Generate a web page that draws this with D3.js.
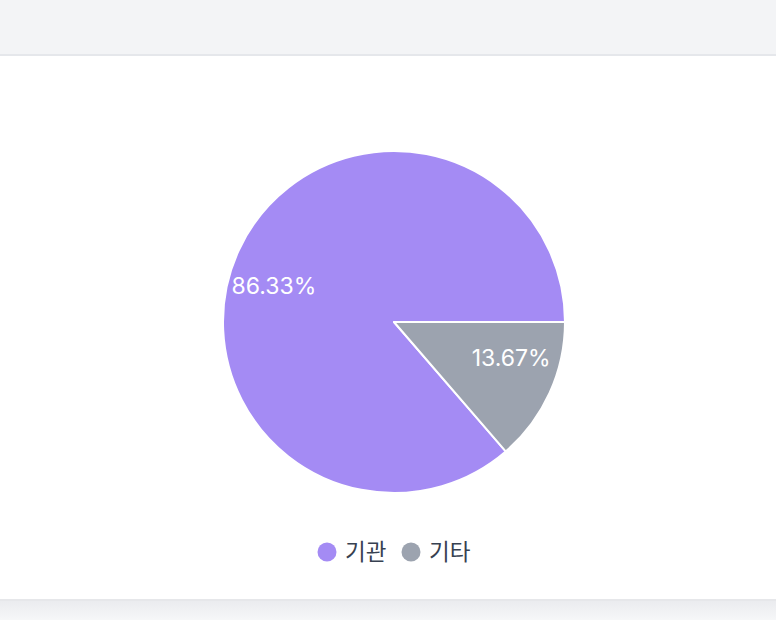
<!DOCTYPE html>
<html>
<head>
<meta charset="utf-8">
<script src="https://cdn.jsdelivr.net/npm/d3@7"></script>
<style>
  html, body { margin:0; padding:0; background:#f3f4f6; }
  #chart { display:block; }
</style>
</head>
<body>
<svg id="chart" width="776" height="620"></svg>
<script>
// data
let categories = ["기관", "기타"];
let shares = [86.33, 13.67];
let colors = ["#a48bf4", "#9ca3af"];

let width = 776, height = 620;
let cx = 394, cy = 322, radius = 171;

let svg = d3.select("#chart");

// page background: gray top band, white card, shadow below
svg.append("rect").attr("x", 0).attr("y", 0).attr("width", width).attr("height", height).attr("fill", "#f3f4f6");
let grad = svg.append("defs").append("linearGradient").attr("id", "shadow").attr("x1", 0).attr("y1", 0).attr("x2", 0).attr("y2", 1);
grad.append("stop").attr("offset", "0%").attr("stop-color", "#eaebee");
grad.append("stop").attr("offset", "100%").attr("stop-color", "#f6f7f8");
svg.append("rect").attr("x", 0).attr("y", 600).attr("width", width).attr("height", 20).attr("fill", "url(#shadow)");
svg.append("rect").attr("x", 0).attr("y", 54).attr("width", width).attr("height", 2).attr("fill", "#e5e7eb");
svg.append("rect").attr("x", 0).attr("y", 56).attr("width", width).attr("height", 544).attr("fill", "#ffffff");
svg.append("rect").attr("x", 0).attr("y", 599).attr("width", width).attr("height", 2).attr("fill", "#e6e7ea");

let data = categories.map((c, i) => ({name: c, value: shares[i], color: colors[i]}));

// counter-clockwise from 3 o'clock
let pie = d3.pie()
	.sort(null)
	.value(d => d.value)
	.startAngle(Math.PI / 2)
	.endAngle(Math.PI / 2 - 2 * Math.PI);

let arc = d3.arc().innerRadius(0).outerRadius(radius);
let labelArc = d3.arc().innerRadius(radius / 2).outerRadius(radius / 2);

let g = svg.append("g").attr("transform", "translate(" + cx + "," + cy + ")");

let arcs = pie(data);

g.selectAll("path")
	.data(arcs)
	.enter()
	.append("path")
	.attr("d", arc)
	.attr("fill", d => d.data.color)
	.attr("stroke", "#ffffff")
	.attr("stroke-width", 2)
	.attr("stroke-linejoin", "round");

g.selectAll("text.label")
	.data(arcs)
	.enter()
	.append("text")
	.attr("class", "label")
	.attr("x", d => labelArc.centroid(d)[0])
	.attr("y", d => labelArc.centroid(d)[1])
	.attr("dy", "0.35em")
	.attr("text-anchor", d => labelArc.centroid(d)[0] < 0 ? "end" : "start")
	.attr("fill", "#ffffff")
	.attr("font-family", "Inter, 'Noto Sans', sans-serif")
	.attr("font-size", 23)
	.text(d => d.data.value.toFixed(2) + "%");

// legend
let legendX = d3.scalePoint().domain(categories).range([327, 411]);
let legend = svg.append("g").selectAll("g")
	.data(data)
	.enter()
	.append("g")
	.attr("transform", d => "translate(" + legendX(d.name) + ",552)");

legend.append("circle")
	.attr("r", 9.5)
	.attr("fill", d => d.color);

legend.append("text")
	.attr("x", 18)
	.attr("dy", "0.35em")
	.attr("fill", "#374151")
	.attr("font-family", "'Noto Sans CJK KR', sans-serif")
	.attr("font-size", 22.5)
	.text(d => d.name);
</script>
</body>
</html>
